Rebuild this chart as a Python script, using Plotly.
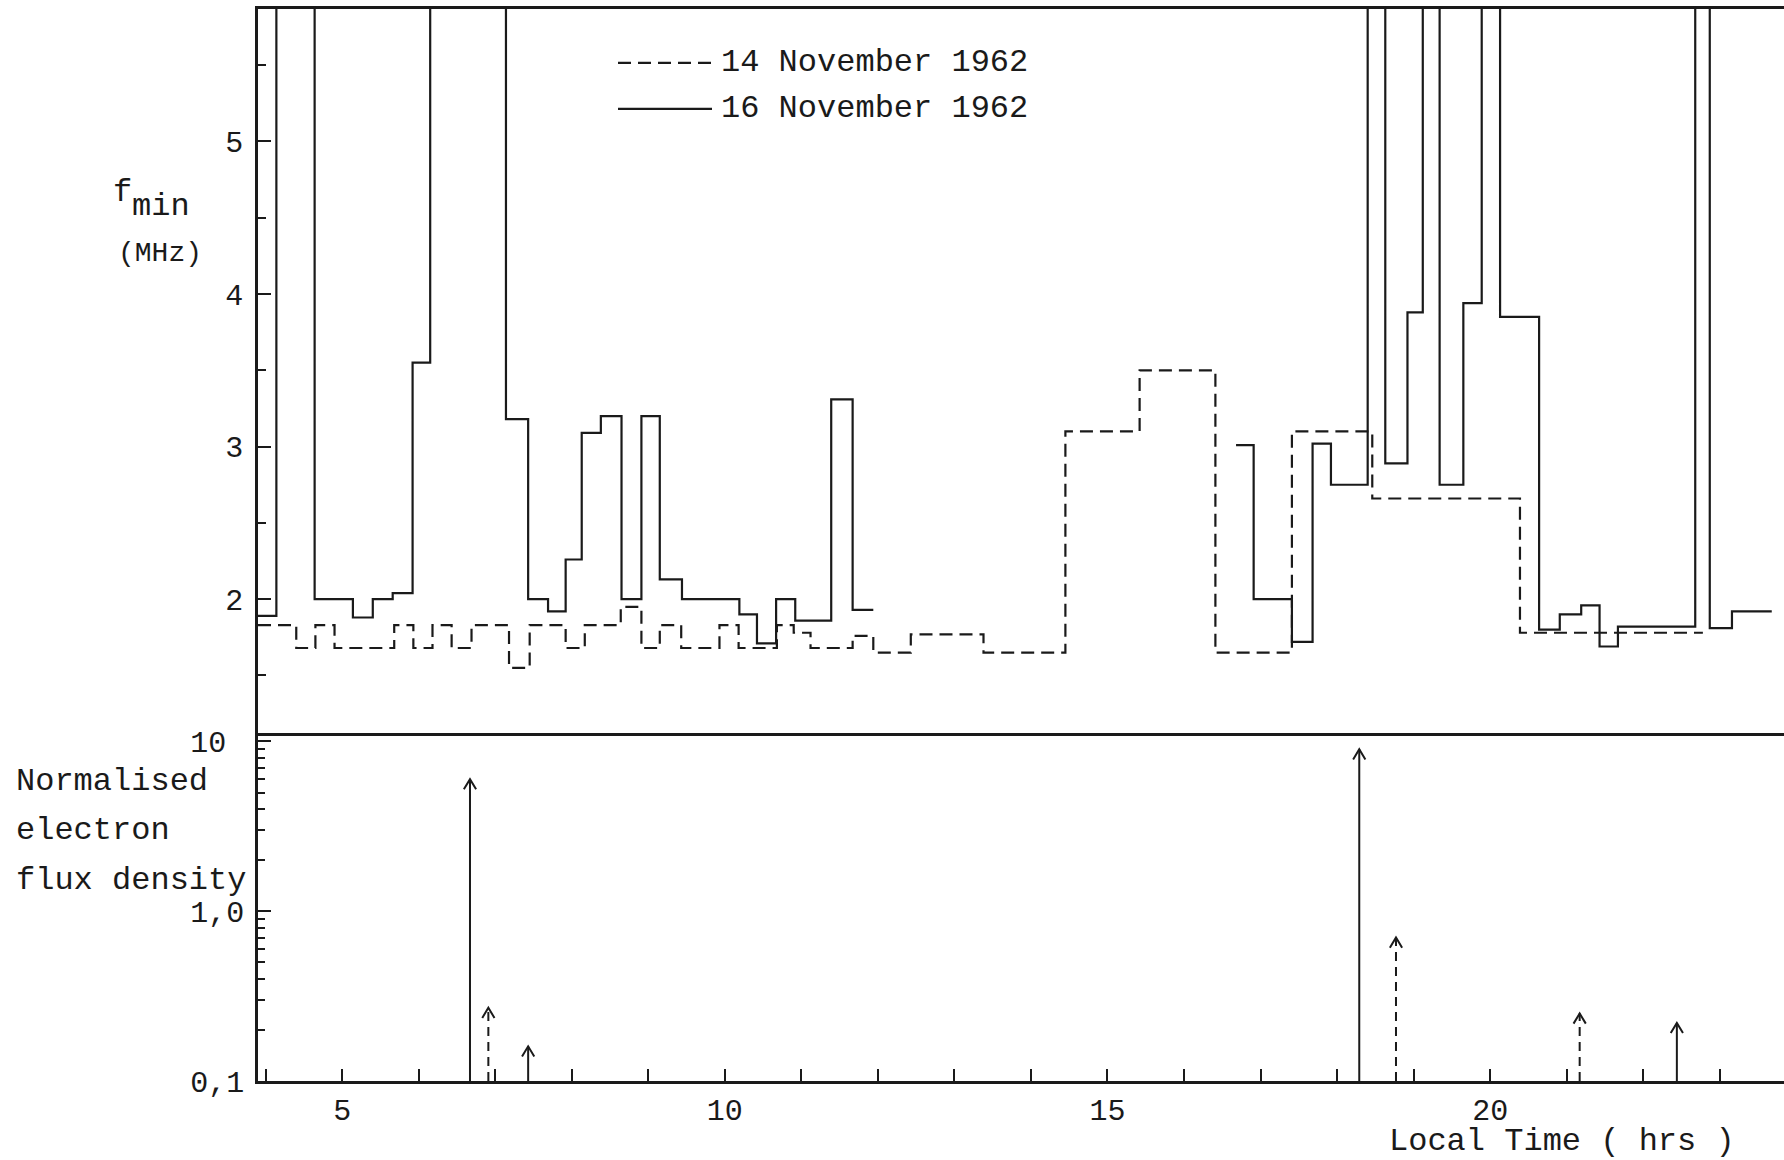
import plotly.graph_objects as go

OFF = 7.0  # bins whose fmin ran off the top of the scale

# ---- fmin step data (bin edges in local time, hrs; values in MHz) ----
# 16 November 1962 (solid), two observed stretches
nov16_a_edges = [3.90, 4.14, 4.64, 5.14, 5.40, 5.66, 5.92, 6.15, 7.14, 7.43, 7.69, 7.92, 8.13,
                 8.38, 8.65, 8.91, 9.15, 9.44, 10.19, 10.42, 10.67, 10.92, 11.39, 11.67, 11.94]
nov16_a_fmin = [1.89, OFF, 2.00, 1.88, 2.00, 2.04, 3.55, OFF, 3.18, 2.00, 1.92, 2.26,
                3.09, 3.20, 2.00, 3.20, 2.13, 2.00, 1.90, 1.71, 2.00, 1.86, 3.31, 1.93]
nov16_b_edges = [16.68, 16.91, 17.41, 17.68, 17.92, 18.40, 18.63, 18.92, 19.12, 19.34, 19.65,
                 19.89, 20.13, 20.64, 20.91, 21.19, 21.43, 21.67, 22.68, 22.87, 23.16, 23.68]
nov16_b_fmin = [3.01, 2.00, 1.72, 3.02, 2.75, OFF, 2.89, 3.88, OFF, 2.75, 3.94,
                OFF, 3.85, 1.80, 1.90, 1.96, 1.69, 1.82, OFF, 1.81, 1.92]

# 14 November 1962 (dashed)
nov14_edges = [3.90, 4.40, 4.65, 4.90, 5.68, 5.93, 6.18, 6.43, 6.69, 7.18, 7.45, 7.92, 8.17,
               8.64, 8.91, 9.15, 9.43, 9.93, 10.18, 10.68, 10.90, 11.12, 11.67, 11.94, 12.43,
               13.38, 14.45, 15.42, 16.41, 17.41, 18.46, 20.39, 22.78]
nov14_fmin = [1.83, 1.68, 1.83, 1.68, 1.83, 1.68, 1.83, 1.68, 1.83, 1.55, 1.83, 1.68, 1.83,
              1.95, 1.68, 1.83, 1.68, 1.83, 1.68, 1.83, 1.78, 1.68, 1.76, 1.65, 1.77,
              1.65, 3.10, 3.50, 1.65, 3.10, 2.66, 1.78]

# ---- normalised electron flux density events ----
flux16_time = [6.67, 7.43, 18.29, 22.44]
flux16_val = [6.0, 0.16, 9.0, 0.22]
flux14_time = [6.91, 18.77, 21.17]
flux14_val = [0.27, 0.70, 0.25]

# ---- tick labels ----
x_tickvals = [5, 10, 15, 20]
x_ticktext = ["5", "10", "15", "20"]
f_tickvals = [2, 3, 4, 5]
flux_tickvals = [0.1, 1, 10]
flux_ticktext = ["0,1", "1,0", "10\u00a0"]

INK = "#1a1a1a"
FONT = "Liberation Mono, Courier New, monospace"
W, H = 1784, 1160
ML, MR, MT, MB = 258, 0, 9, 79
X_RANGE = [3.90, 23.84]
SPLIT = 348 / (H - MT - MB)
TICKFONT = dict(family=FONT, size=30, color=INK)


def step_xy(edges, vals):
    return list(edges), list(vals) + [vals[-1]]


def px(xp, yp):
    """pixel position -> paper coordinates"""
    return (xp - ML) / (W - ML - MR), (H - MB - yp) / (H - MT - MB)


xa, ya = step_xy(nov16_a_edges, nov16_a_fmin)
xb, yb = step_xy(nov16_b_edges, nov16_b_fmin)
x16 = xa + [None] + xb
y16 = ya + [None] + yb
x14, y14 = step_xy(nov14_edges, nov14_fmin)

fig = go.Figure()
fig.add_trace(go.Scatter(x=x14, y=y14, mode="lines", line_shape="hv", name="14 November 1962",
                         line=dict(color=INK, width=2.2, dash="13px,7px"), xaxis="x", yaxis="y"))
fig.add_trace(go.Scatter(x=x16, y=y16, mode="lines", line_shape="hv", name="16 November 1962",
                         line=dict(color=INK, width=2.2), connectgaps=False, xaxis="x", yaxis="y"))


def shafts(times, vals):
    xs, ys = [], []
    for t, v in zip(times, vals):
        xs += [t, t, None]
        ys += [0.1, v, None]
    return xs, ys


def heads(times, vals, dx=0.08, f=10 ** -0.06):
    xs, ys = [], []
    for t, v in zip(times, vals):
        xs += [t - dx, t, t + dx, None]
        ys += [v * f, v, v * f, None]
    return xs, ys


sx, sy = shafts(flux16_time, flux16_val)
fig.add_trace(go.Scatter(x=sx, y=sy, mode="lines", line=dict(color=INK, width=2),
                         xaxis="x2", yaxis="y2", showlegend=False))
sx, sy = shafts(flux14_time, flux14_val)
fig.add_trace(go.Scatter(x=sx, y=sy, mode="lines", line=dict(color=INK, width=2, dash="9px,6px"),
                         xaxis="x2", yaxis="y2", showlegend=False))
hx, hy = heads(flux16_time + flux14_time, flux16_val + flux14_val)
fig.add_trace(go.Scatter(x=hx, y=hy, mode="lines", line=dict(color=INK, width=2),
                         xaxis="x2", yaxis="y2", showlegend=False))

axis_common = dict(linecolor=INK, tickcolor=INK, showgrid=False, zeroline=False, tickfont=TICKFONT)

fig.update_layout(
    width=W, height=H,
    margin=dict(l=ML, r=MR, t=MT, b=MB, autoexpand=False),
    paper_bgcolor="white", plot_bgcolor="white",
    font=dict(family=FONT, size=32, color=INK),
    showlegend=False,
    xaxis=dict(domain=[0, 1], anchor="y", range=X_RANGE, showticklabels=False, ticks="",
               showline=True, mirror=True, linewidth=3, **axis_common),
    yaxis=dict(domain=[SPLIT, 1], anchor="x", range=[1.123, 5.868], tickvals=f_tickvals,
               ticks="inside", ticklen=13, tickwidth=2, showline=True, linewidth=2.5,
               ticklabelstandoff=6,
               minor=dict(ticks="inside", ticklen=8, tickwidth=2, dtick=0.5, tickcolor=INK),
               **axis_common),
    xaxis2=dict(domain=[0, 1], anchor="y2", range=X_RANGE, tickvals=x_tickvals, ticktext=x_ticktext,
                ticks="inside", ticklen=12, tickwidth=2, showline=True, linewidth=3,
                ticklabelstandoff=0,
                minor=dict(ticks="inside", ticklen=12, tickwidth=2, dtick=1, tick0=0, tickcolor=INK),
                **axis_common),
    yaxis2=dict(domain=[0, SPLIT], anchor="x2", type="log", range=[-1, 1.05],
                tickvals=flux_tickvals, ticktext=flux_ticktext,
                ticks="inside", ticklen=13, tickwidth=2, showline=True, linewidth=2.5,
                ticklabelstandoff=5,
                minor=dict(ticks="inside", ticklen=7, tickwidth=2, tickcolor=INK,
                           tickvals=[0.2, 0.3, 0.4, 0.5, 0.6, 0.7, 0.8, 0.9,
                                     2, 3, 4, 5, 6, 7, 8, 9]),
                **axis_common),
)

# ---- legend drawn as in the original (line sample + typed text) ----
leg_rows = [("14 November 1962", 62.9, "13px,7px"), ("16 November 1962", 108.8, "solid")]
for label, ypix, dash in leg_rows:
    x0, yy = px(618, ypix)
    x1, _ = px(712, ypix)
    fig.add_shape(type="line", xref="paper", yref="paper", x0=x0, x1=x1, y0=yy, y1=yy,
                  line=dict(color=INK, width=2.2, dash=dash))
    tx, _ = px(719, ypix)
    fig.add_annotation(text=label, xref="paper", yref="paper", x=tx, y=yy, xanchor="left",
                       yanchor="middle", showarrow=False, font=dict(size=32, family=FONT, color=INK))


# ---- axis titles typed as on the original ----
def label(text, xp, yp, xanchor="center", size=32):
    x, y = px(xp, yp)
    fig.add_annotation(text=text, xref="paper", yref="paper", x=x, y=y, xanchor=xanchor,
                       yanchor="middle", showarrow=False, font=dict(size=size, family=FONT, color=INK))


label("f", 134, 192, xanchor="right")
label("min", 130, 206, xanchor="left")
label("(MHz)", 160, 254, size=28)
label("Normalised", 14, 781, xanchor="left")
label("electron", 14, 830, xanchor="left")
label("flux density", 14, 880, xanchor="left")
label("Local Time ( hrs )", 1562, 1141)

fig.write_html("out.html", config={"displayModeBar": False},
               post_script="document.body.style.margin='0';document.body.style.overflow='hidden';")
